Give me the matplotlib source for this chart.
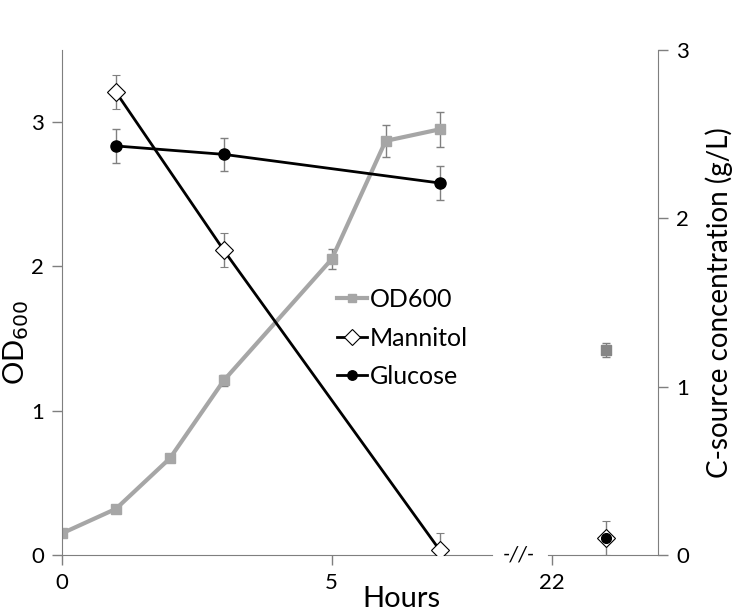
import matplotlib.pyplot as plt

plt.rcParams['font.family'] = ['Lato', 'DejaVu Sans']

# growth data (hours)
od_hours = [0, 1, 2, 3, 5, 6, 7]
od_values = [0.15, 0.32, 0.67, 1.21, 2.05, 2.87, 2.95]
od_err = [0.0, 0.0, 0.0, 0.04, 0.07, 0.11, 0.12]

c_hours = [1, 3, 7]
mannitol = [2.75, 1.81, 0.03]
mannitol_err = [0.10, 0.10, 0.10]
glucose = [2.43, 2.38, 2.21]
glucose_err = [0.10, 0.10, 0.10]

# late time point after the axis break
late_hour = [23]
late_od = [1.42]
late_od_err = [0.05]
late_mannitol = [0.10]
late_mannitol_err = [0.10]
late_glucose = [0.10]

grey_line = '#a6a6a6'
axis_grey = '#7f7f7f'
err_grey = '#808080'

fig = plt.figure(figsize=(7.39, 6.11), dpi=100)
W, H = 739, 611
x_scale = 53.94  # pixels per hour
bottom, top = 555, 50
axL1 = fig.add_axes([62 / W, 1 - bottom / H, 430 / W, (bottom - top) / H])
axL2 = fig.add_axes([548 / W, 1 - bottom / H, 110 / W, (bottom - top) / H])
axR1 = axL1.twinx()
axR2 = axL2.twinx()

axL1.set_xlim(0, 430 / x_scale)
axL2.set_xlim(22 - 4.3 / x_scale, 22 + 105.7 / x_scale)
for a in (axL1, axL2):
    a.set_ylim(0, 3.5)
for a in (axR1, axR2):
    a.set_ylim(0, 3.0)

eb = dict(ecolor=err_grey, elinewidth=1, capsize=3, capthick=1)

c_od = axL1.errorbar(od_hours, od_values, yerr=od_err, color=grey_line, lw=3,
                     marker='s', ms=7.5, label='OD600', **eb)
c_man = axR1.errorbar(c_hours, mannitol, yerr=mannitol_err, color='black', lw=2,
                      marker='D', ms=9, mfc='white', mec='black', mew=0.8,
                      label='Mannitol', **eb)
c_glu = axR1.errorbar(c_hours, glucose, yerr=glucose_err, color='black', lw=2,
                      marker='o', ms=8, label='Glucose', **eb)

axL2.errorbar(late_hour, late_od, yerr=late_od_err, color='#868686',
              marker='s', ms=7.5, ls='none', **eb)
axR2.errorbar(late_hour, late_mannitol, yerr=late_mannitol_err, color='black',
              marker='D', ms=9, mfc='white', mec='black', mew=0.8, ls='none', **eb)
axR2.plot(late_hour, late_glucose, color='black', marker='o', ms=7, ls='none', zorder=5)

# spines
for a in (axL1, axL2, axR1, axR2):
    for s in a.spines.values():
        s.set_visible(False)
        s.set_color(axis_grey)
axL1.spines['left'].set_visible(True)
axL1.spines['bottom'].set_visible(True)
axL2.spines['bottom'].set_visible(True)
axR2.spines['right'].set_visible(True)
axR2.spines['right'].set_bounds(0, 3)

tick_kw = dict(direction='out', length=7, width=1, color=axis_grey,
               labelsize=16, labelcolor='black', pad=6)
axL1.set_xticks([0, 5])
axL1.set_yticks([0, 1, 2, 3])
axL1.tick_params(axis='both', **tick_kw)
axL2.set_xticks([22])
axL2.set_yticks([])
axL2.tick_params(axis='x', **tick_kw)
axR1.set_yticks([])
axR2.set_yticks([0, 1, 2, 3])
axR2.tick_params(axis='y', **tick_kw)

fig.text(16 / W, 1 - 342 / H, 'OD$_{600}$', fontsize=21, rotation=90,
         ha='center', va='center')
axR2.set_ylabel('C-source concentration (g/L)', fontsize=20, labelpad=12)
fig.text(401 / W, 1 - 599 / H, 'Hours', fontsize=21, ha='center', va='center')
fig.text(519 / W, 1 - 554 / H, '-//-', fontsize=15, ha='center', va='center',
         style='italic')

handles = [c_od[0], c_man[0], c_glu[0]]
labels = ['OD600', 'Mannitol', 'Glucose']
fig.legend(handles, labels, loc='center left', bbox_to_anchor=(337 / W, 1 - 338 / H),
           frameon=False, fontsize=18, handlelength=1.2, handletextpad=0.12,
           labelspacing=0.62, borderpad=0, borderaxespad=0, markerscale=0.85)

fig.savefig('out.png', dpi=100)
